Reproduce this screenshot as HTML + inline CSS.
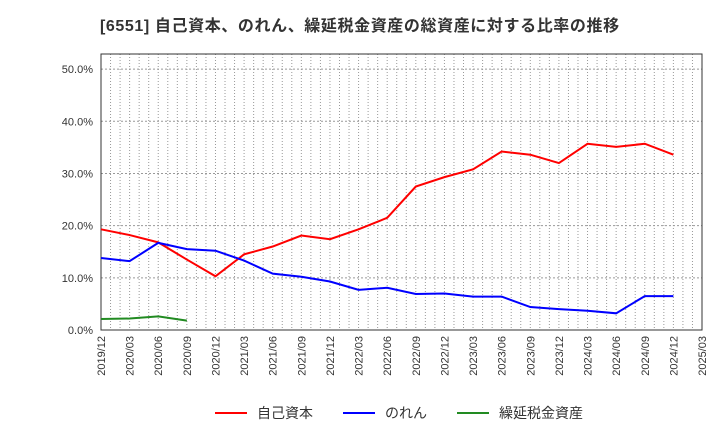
<!DOCTYPE html>
<html><head><meta charset="utf-8"><style>
body{margin:0;background:#fff;font-family:"Liberation Sans","Noto Sans CJK JP",sans-serif;}
</style></head><body>
<svg id="chart" width="720" height="440" xmlns="http://www.w3.org/2000/svg" font-family="Liberation Sans, Noto Sans CJK JP, sans-serif"></svg>
<script>
const categories=["2019/12","2020/03","2020/06","2020/09","2020/12","2021/03","2021/06","2021/09","2021/12","2022/03","2022/06","2022/09","2022/12","2023/03","2023/06","2023/09","2023/12","2024/03","2024/06","2024/09","2024/12","2025/03"];
const equityRatio=[19.3,18.2,16.8,13.5,10.3,14.5,16.0,18.1,17.4,19.3,21.5,27.5,29.3,30.8,34.2,33.6,32.0,35.7,35.1,35.7,33.6];
const goodwill=[13.8,13.2,16.7,15.5,15.2,13.3,10.8,10.2,9.3,7.7,8.1,6.9,7.0,6.4,6.4,4.4,4.0,3.7,3.2,6.5,6.5];
const deferredTax=[2.1,2.2,2.6,1.8];
const yTicks=[0,10,20,30,40,50];
const NS="http://www.w3.org/2000/svg";
const svg=document.getElementById('chart');
const L=101,R=702,T=54,B=330;
const yMax=52.9;
const x=i=>L+(R-L)*i/(categories.length-1);
const y=v=>B-(B-T)*v/yMax;
function el(t,a,p){const e=document.createElementNS(NS,t);for(const k in a)e.setAttribute(k,a[k]);(p||svg).appendChild(e);return e;}
const title=el('text',{x:100,y:31,'font-size':16,'font-weight':'bold',fill:'#333','letter-spacing':0.6});
title.textContent='[6551]  自己資本、のれん、繰延税金資産の総資産に対する比率の推移';


const grid=el('g',{});


for(let m=0;m<=63;m++){const xx=L+(R-L)*m/63;el('line',{x1:xx,x2:xx,y1:T,y2:B,stroke:'#999','stroke-width':1,'stroke-dasharray':'1,2'},grid);}
yTicks.forEach(v=>{el('line',{x1:L,x2:R,y1:y(v),y2:y(v),stroke:'#999','stroke-width':1,'stroke-dasharray':'2,2'},grid);
const t=el('text',{x:L-8,y:y(v)+4,'font-size':11,'text-anchor':'end',fill:'#333'});t.textContent=v.toFixed(1)+'%';
});
const frame=el('rect',{x:L,y:T,width:R-L,height:B-T,fill:'none',stroke:'#333'});

categories.forEach((c,i)=>{const t=el('text',{transform:`translate(${x(i)+4},${B+6}) rotate(-90)`,'font-size':11,'text-anchor':'end',fill:'#333'});t.textContent=c;
});
function line(d,c,n){const p=el('polyline',{points:d.map((v,i)=>x(i)+','+y(v)).join(' '),fill:'none',stroke:c,'stroke-width':2});
}
line(equityRatio,'#f00','equity-ratio-line');
line(goodwill,'#00f','goodwill-line');
line(deferredTax,'#228b22','deferred-tax-line');
const leg=[['自己資本','#f00',215],['のれん','#00f',343],['繰延税金資産','#228b22',457]];
leg.forEach(([n,c,lx])=>{const g=el('g',{});
el('line',{x1:lx,x2:lx+32,y1:413,y2:413,stroke:c,'stroke-width':2},g);
const t=el('text',{x:lx+42,y:418,'font-size':14,fill:'#333'},g);t.textContent=n;});
</script>
</body></html>
